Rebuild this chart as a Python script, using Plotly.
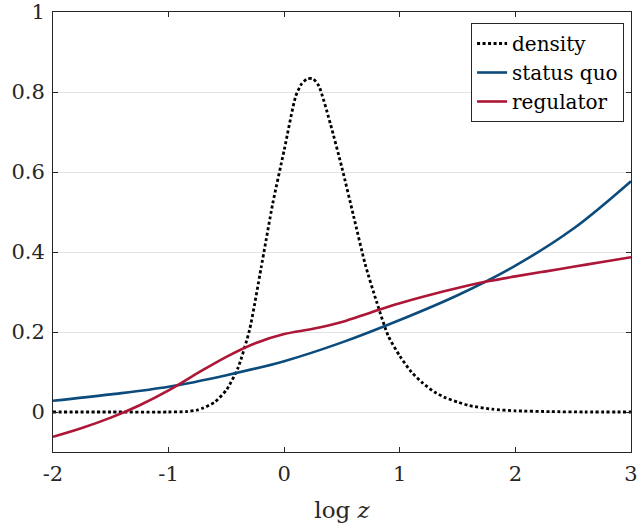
import plotly.graph_objects as go

# ---- data ----
density_x = [-2.0, -1.5, -1.0, -0.85, -0.75, -0.7, -0.6, -0.5, -0.4, -0.3, -0.2, -0.1, 0.0, 0.1, 0.15, 0.2, 0.25,
             0.3, 0.4, 0.5, 0.6, 0.7, 0.8, 0.9, 1.0, 1.1, 1.2, 1.3, 1.4, 1.5, 1.6, 1.8, 2.0, 2.3, 2.6, 3.0]
density_y = [0.0, 0.0, 0.0, 0.001, 0.005, 0.01, 0.025, 0.055, 0.11, 0.205, 0.36, 0.52, 0.655, 0.79, 0.82, 0.833, 0.833,
             0.815, 0.72, 0.61, 0.49, 0.37, 0.275, 0.19, 0.14, 0.10, 0.072, 0.05, 0.035, 0.025, 0.016, 0.007, 0.003, 0.001, 0.0, 0.0]

sq_x = [-2.0, -1.5, -1.0, -0.5, 0.0, 0.5, 1.0, 1.5, 2.0, 2.5, 3.0]
sq_y = [0.028, 0.044, 0.063, 0.092, 0.127, 0.174, 0.23, 0.292, 0.366, 0.458, 0.577]

reg_x = [-2.0, -1.75, -1.5, -1.25, -1.0, -0.75, -0.5, -0.25, 0.0, 0.25, 0.5, 0.75, 1.0, 1.25, 1.5, 1.75,
         2.0, 2.25, 2.5, 2.75, 3.0]
reg_y = [-0.062, -0.040, -0.014, 0.017, 0.054, 0.097, 0.138, 0.172, 0.195, 0.208, 0.225, 0.249, 0.272, 0.292,
         0.31, 0.326, 0.339, 0.351, 0.363, 0.375, 0.387]

x_ticks = [-2, -1, 0, 1, 2, 3]
x_tick_labels = ["-2", "-1", "0", "1", "2", "3"]
y_ticks = [0, 0.2, 0.4, 0.6, 0.8, 1]
y_tick_labels = ["0", "0.2", "0.4", "0.6", "0.8", "1"]

BLUE = "#0b4c7c"
RED = "#ad1637"
FONT = "DejaVu Serif"

fig = go.Figure()
fig.add_trace(go.Scatter(x=density_x, y=density_y, mode="lines", name="density",
                         line=dict(color="black", width=2.8, dash="3px,2.5px", shape="spline", smoothing=0.6)))
fig.add_trace(go.Scatter(x=sq_x, y=sq_y, mode="lines", name="status quo",
                         line=dict(color=BLUE, width=2.6, shape="spline", smoothing=1)))
fig.add_trace(go.Scatter(x=reg_x, y=reg_y, mode="lines", name="regulator",
                         line=dict(color=RED, width=2.6, shape="spline", smoothing=1)))

axis_common = dict(showline=True, linecolor="#262626", linewidth=1, mirror="ticks",
                   ticks="inside", ticklen=5, tickcolor="#262626", automargin=False,
                   ticklabeloverflow="allow",
                   tickfont=dict(family=FONT, size=21, color="#262626"), zeroline=False)

fig.update_xaxes(range=[-2, 3], tickvals=x_ticks, ticktext=x_tick_labels, showgrid=False,
                 ticklabelstandoff=3,
                 title=dict(text="log <i>z</i>", font=dict(family=FONT, size=23, color="#262626"), standoff=16),
                 **axis_common)
fig.update_yaxes(range=[-0.1, 1], tickvals=y_ticks, ticktext=y_tick_labels, showgrid=True,
                 ticklabelstandoff=3,
                 gridcolor="#e3e3e3", gridwidth=1, **axis_common)

fig.update_layout(
    width=638, height=531,
    margin=dict(l=53, r=7, t=12, b=79),
    plot_bgcolor="white", paper_bgcolor="white",
    font=dict(family=FONT, color="#262626"),
    showlegend=True,
    legend=dict(x=0.988, y=0.975, xanchor="right", yanchor="top",
                bgcolor="white", bordercolor="#262626", borderwidth=1,
                font=dict(family=FONT, size=20, color="black"),
                tracegroupgap=0, itemwidth=30),
)

fig.write_html("out.html", config={"displayModeBar": False},
               post_script="document.body.style.margin='0px';")
